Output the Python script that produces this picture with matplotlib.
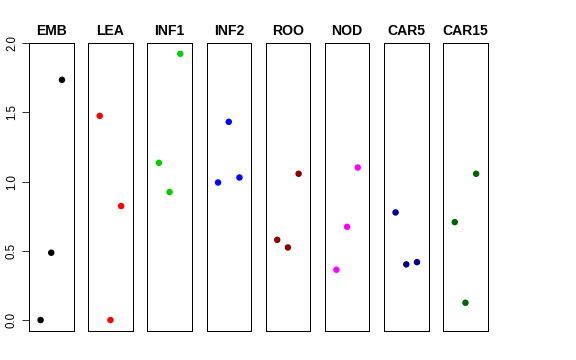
import matplotlib
matplotlib.use("Agg")
import matplotlib.pyplot as plt

plt.rcParams['font.family'] = ['Liberation Sans', 'DejaVu Sans']

panels = ["EMB", "LEA", "INF1", "INF2", "ROO", "NOD", "CAR5", "CAR15"]
colors = ["#000000", "#FF0000", "#00CD00", "#0000FF", "#8B0000", "#FF00FF", "#00008B", "#006400"]
x_pos = [1, 2, 3]
emb = [0.00, 0.486, 1.734]
lea = [1.474, 0.00, 0.823]
inf1 = [1.135, 0.924, 1.922]
inf2 = [0.993, 1.431, 1.029]
roo = [0.579, 0.524, 1.056]
nod = [0.363, 0.673, 1.101]
car5 = [0.777, 0.402, 0.418]
car15 = [0.707, 0.125, 1.056]
values = [emb, lea, inf1, inf2, roo, nod, car5, car15]
yticks = [0.0, 0.5, 1.0, 1.5, 2.0]
ytick_labels = ["0.0", "0.5", "1.0", "1.5", "2.0"]

W, H = 576, 360
fig = plt.figure(figsize=(W / 72, H / 72), dpi=72)

left0 = 29.0
step = 59.17
width = 44.5
top = 43.0
bottom = 331.0

for i, (name, col, vals) in enumerate(zip(panels, colors, values)):
    l = left0 + i * step
    ax = fig.add_axes([l / W, 1 - bottom / H, width / W, (bottom - top) / H])
    ax.scatter(x_pos, vals, s=42, color=col, edgecolors='none', zorder=3)
    ax.set_xlim(-0.08, 4.08)
    ax.set_ylim(-0.079, 2.0)
    ax.set_xticks([])
    for sp in ax.spines.values():
        sp.set_linewidth(1.0)
        sp.set_color('#000000')
    ax.set_title(name, fontsize=14, fontweight='bold', pad=8)
    if i == 0:
        ax.set_yticks(yticks)
        ax.set_yticklabels(ytick_labels, rotation=90, va='center', fontsize=11.5)
        ax.tick_params(axis='y', length=7, width=0.8, pad=4)
    else:
        ax.set_yticks([])

fig.savefig("out.png", dpi=72)
